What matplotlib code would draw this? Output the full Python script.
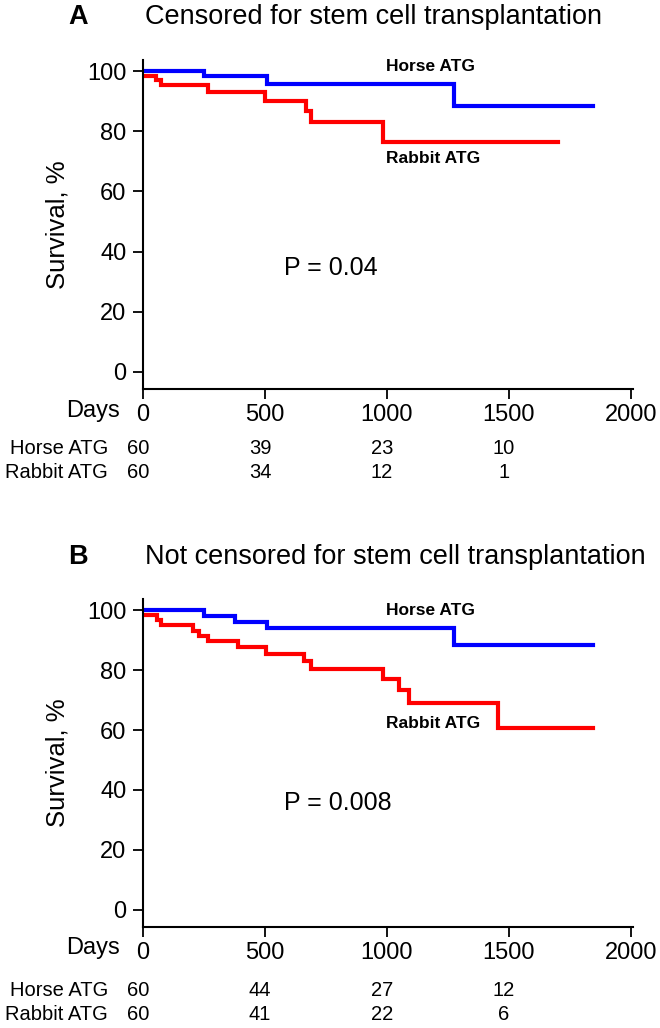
import matplotlib
matplotlib.use("Agg")
import matplotlib.pyplot as plt
import matplotlib.transforms as mtransforms

plt.rcParams['font.family'] = ['Liberation Sans', 'DejaVu Sans']

# ---- Data ----
a_horse_days = [0, 248, 509, 1273, 1846]
a_horse_surv = [100, 98.3, 95.8, 88.3, 88.3]
a_rabbit_days = [0, 53, 73, 265, 502, 667, 687, 985, 1700]
a_rabbit_surv = [98.3, 96.9, 95.5, 93.1, 90.0, 86.7, 83.0, 76.3, 76.3]

b_horse_days = [0, 248, 379, 509, 1273, 1846]
b_horse_surv = [100, 98.1, 96.1, 94.0, 88.2, 88.2]
b_rabbit_days = [0, 56, 73, 204, 228, 265, 388, 505, 660, 687, 982, 1051, 1092, 1455, 1846]
b_rabbit_surv = [98.3, 96.6, 94.9, 93.0, 91.3, 89.6, 87.6, 85.4, 83.1, 80.4, 77.0, 73.3, 69.1, 60.7, 60.7]

risk_days = [0, 500, 1000, 1500]
a_horse_risk = [60, 39, 23, 10]
a_rabbit_risk = [60, 34, 12, 1]
b_horse_risk = [60, 44, 27, 12]
b_rabbit_risk = [60, 41, 22, 6]

x_ticks = [0, 500, 1000, 1500, 2000]
y_ticks = [0, 20, 40, 60, 80, 100]

panel_letters = ["A", "B"]
panel_titles = ["Censored for stem cell transplantation",
                "Not censored for stem cell transplantation"]
p_values = ["P = 0.04", "P = 0.008"]
group_names = ["Horse ATG", "Rabbit ATG"]

W, H = 660, 1028
fig = plt.figure(figsize=(W / 100, H / 100), dpi=100)

def fy(py):
    return 1 - py / H

panels = [
    dict(top=60, bottom=389, title_y=17, days_y=411, rows_y=(448, 473),
         hd=a_horse_days, hs=a_horse_surv, rd=a_rabbit_days, rs=a_rabbit_surv,
         hr=a_horse_risk, rr=a_rabbit_risk,
         hlab=(995, 101.6), rlab=(995, 71.0), plab=(576, 34.5)),
    dict(top=599, bottom=927, title_y=557, days_y=948, rows_y=(990, 1014),
         hd=b_horse_days, hs=b_horse_surv, rd=b_rabbit_days, rs=b_rabbit_surv,
         hr=b_horse_risk, rr=b_rabbit_risk,
         hlab=(995, 99.7), rlab=(995, 62.3), plab=(576, 35.8)),
]

left_px, right_px = 143, 633.4
for i, p in enumerate(panels):
    ax = fig.add_axes([left_px / W, fy(p['bottom']), (right_px - left_px) / W,
                       (p['bottom'] - p['top']) / H])
    ax.step(p['hd'], p['hs'], where='post', color='#0000ff', lw=3.0,
            solid_joinstyle='miter')
    ax.step(p['rd'], p['rs'], where='post', color='#ff0000', lw=3.0,
            solid_joinstyle='miter')
    ax.set_xlim(0, 2010)
    ax.set_ylim(-5.7, 103.7)
    ax.set_xticks(x_ticks)
    ax.set_yticks(y_ticks)
    ax.set_xticklabels([str(t) for t in x_ticks])
    for s in ['top', 'right']:
        ax.spines[s].set_visible(False)
    for s in ['left', 'bottom']:
        ax.spines[s].set_linewidth(1.5)
    ax.tick_params(axis='both', direction='out', length=7, width=1.3,
                   labelsize=17, pad=5)
    ax.tick_params(axis='x', pad=4)
    ax.set_ylabel("Survival, %", fontsize=18.5)
    ax.yaxis.set_label_coords((57 - left_px) / (right_px - left_px), 0.5)
    ax.yaxis.label.set_va('center')

    ax.text(*p['hlab'], group_names[0], fontsize=12.5, fontweight='bold',
            ha='left', va='center')
    ax.text(*p['rlab'], group_names[1], fontsize=12.5, fontweight='bold',
            ha='left', va='center')
    ax.text(*p['plab'], p_values[i], fontsize=18, ha='left', va='center')

    # titles
    fig.text(78 / W, fy(p['title_y']), panel_letters[i], fontsize=19.5,
             fontweight='bold', ha='center', va='center')
    fig.text(145 / W, fy(p['title_y']), panel_titles[i], fontsize=19.5,
             ha='left', va='center')

    # "Days" label
    fig.text(120 / W, fy(p['days_y']), "Days", fontsize=17, ha='right',
             va='center')

    # numbers at risk
    tr = mtransforms.blended_transform_factory(ax.transData, fig.transFigure)
    for name, vals, ry in [(group_names[0], p['hr'], p['rows_y'][0]),
                           (group_names[1], p['rr'], p['rows_y'][1])]:
        fig.text(108 / W, fy(ry), name, fontsize=14.5, ha='right', va='center')
        for d, v in zip(risk_days, vals):
            xoff = -18 if d == 0 else -20
            ax.text(d + xoff, fy(ry), str(v), transform=tr, fontsize=14.5,
                    ha='center', va='center', clip_on=False)

fig.savefig("out.png", dpi=100)
